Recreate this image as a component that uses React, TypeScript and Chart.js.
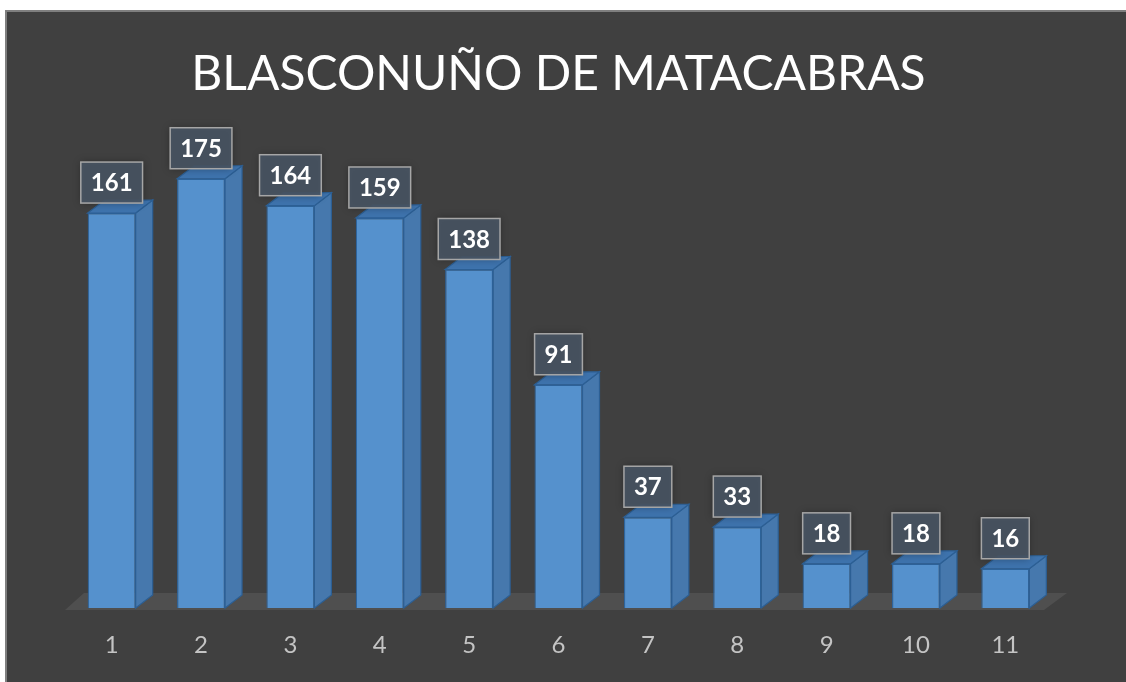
import React, { useEffect, useRef } from "react";
import { Chart, registerables } from "chart.js";

Chart.register(...registerables);

const categories = ["1", "2", "3", "4", "5", "6", "7", "8", "9", "10", "11"];
const values = [161, 175, 164, 159, 138, 91, 37, 33, 18, 18, 16];
const chartTitle = "BLASCONUÑO DE MATACABRAS";

const DX = 17;
const DY = -13;

const backgroundPlugin = {
  id: "bgPanel",
  beforeDraw(chart: any) {
    const { ctx, width, height } = chart;
    ctx.save();
    ctx.fillStyle = "#ffffff";
    ctx.fillRect(0, 0, width, height);
    ctx.fillStyle = "#7f7f7f";
    ctx.fillRect(5, 10, width - 5, height - 10);
    ctx.fillStyle = "#404040";
    ctx.fillRect(7, 12, width - 7, height - 12);
    ctx.restore();
  },
};

const floorPlugin = {
  id: "floor3d",
  beforeDatasetsDraw(chart: any) {
    const { ctx, chartArea } = chart;
    const y0 = chartArea.bottom + 2;
    ctx.save();
    ctx.fillStyle = "#4f4f4f";
    ctx.beginPath();
    ctx.moveTo(chartArea.left - 2, y0);
    ctx.lineTo(chartArea.right - 6, y0);
    ctx.lineTo(chartArea.right - 6 + DX + 6, y0 + DY - 4);
    ctx.lineTo(chartArea.left - 2 + DX + 2, y0 + DY - 4);
    ctx.closePath();
    ctx.fill();
    ctx.restore();
  },
};

const faces3dPlugin = {
  id: "faces3d",
  afterDatasetsDraw(chart: any) {
    const { ctx } = chart;
    const meta = chart.getDatasetMeta(0);
    ctx.save();
    meta.data.forEach((bar: any, i: number) => {
      const p = bar.getProps(["x", "y", "base", "width"], true);
      const x0 = p.x - p.width / 2;
      const x1 = p.x + p.width / 2;
      const top = p.y;
      const bottom = p.base;
      // side face
      ctx.beginPath();
      ctx.moveTo(x1, top);
      ctx.lineTo(x1 + DX, top + DY);
      ctx.lineTo(x1 + DX, bottom + DY);
      ctx.lineTo(x1, bottom);
      ctx.closePath();
      ctx.fillStyle = "#4678ad";
      ctx.fill();
      ctx.strokeStyle = "#2c5f94";
      ctx.lineWidth = 1.2;
      ctx.stroke();
      // top face
      ctx.beginPath();
      ctx.moveTo(x0, top);
      ctx.lineTo(x0 + DX, top + DY);
      ctx.lineTo(x1 + DX, top + DY);
      ctx.lineTo(x1, top);
      ctx.closePath();
      ctx.fillStyle = "#3e73ad";
      ctx.fill();
      ctx.stroke();

      // data label box
      const text = String(values[i]);
      ctx.font = "bold 24px Lato";
      const tw = ctx.measureText(text).width;
      const bw = tw + 20;
      const bh = 41;
      const bx = p.x - bw / 2;
      const by = top - 10 - bh;
      ctx.shadowColor = "rgba(0,0,0,0.35)";
      ctx.shadowBlur = 8;
      ctx.fillStyle = "rgba(72,84,98,0.92)";
      ctx.fillRect(bx, by, bw, bh);
      ctx.shadowBlur = 0;
      ctx.shadowColor = "transparent";
      ctx.strokeStyle = "#a6a6a6";
      ctx.lineWidth = 1.5;
      ctx.strokeRect(bx, by, bw, bh);
      ctx.fillStyle = "#ffffff";
      ctx.textAlign = "center";
      ctx.textBaseline = "middle";
      ctx.fillText(text, p.x, by + bh / 2 + 1);
    });
    ctx.restore();
  },
};

export default function App() {
  const canvasRef = useRef<HTMLCanvasElement | null>(null);

  useEffect(() => {
    if (!canvasRef.current) return;
    const chart = new Chart(canvasRef.current, {
      type: "bar",
      data: {
        labels: categories,
        datasets: [
          {
            data: values,
            backgroundColor: "#5591cd",
            borderColor: "#2e649c",
            borderWidth: 1.2,
            categoryPercentage: 1,
            barPercentage: 0.537,
          },
        ],
      },
      options: {
        animation: false,
        responsive: true,
        maintainAspectRatio: false,
        layout: { padding: { left: 67, right: 76, top: 46, bottom: 14 } },
        plugins: {
          legend: { display: false },
          tooltip: { enabled: false },
          title: {
            display: true,
            text: chartTitle,
            color: "#ffffff",
            font: { family: "Lato", size: 48, weight: "normal", lineHeight: 1.2 },
            padding: { top: 0, bottom: 13.8 },
          },
        },
        scales: {
          x: {
            grid: { display: false, drawTicks: false },
            border: { display: false },
            ticks: {
              color: "#c4c4c4",
              font: { family: "Lato", size: 24 },
              padding: 23,
            },
            afterFit: (scale: any) => {
              scale.height = 60;
            },
          },
          y: {
            display: false,
            min: 0,
            max: 200,
          },
        },
      },
      plugins: [backgroundPlugin, floorPlugin, faces3dPlugin],
    });
    return () => chart.destroy();
  }, []);

  return (
    <div style={{ position: "fixed", left: 0, top: 0, width: 1126, height: 682 }}>
      <canvas ref={canvasRef} />
    </div>
  );
}
